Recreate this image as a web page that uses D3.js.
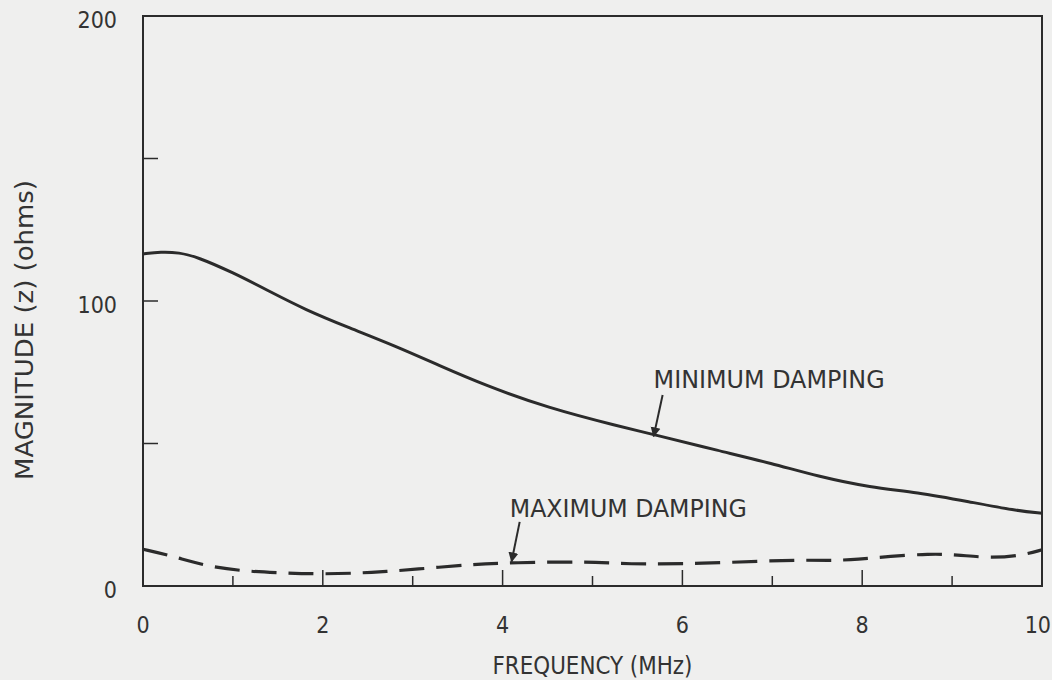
<!DOCTYPE html>
<html>
<head>
<meta charset="utf-8">
<script src="https://cdn.jsdelivr.net/npm/d3@7"></script>
<style>
  html, body { margin: 0; padding: 0; background: #efefee; }
  svg { display: block; }
  text { fill: #333; font-family: "DejaVu Sans Condensed", "DejaVu Sans", sans-serif; }
</style>
</head>
<body>
<svg id="chart" width="1052" height="680"></svg>
<script>
// Impedance magnitude vs. frequency, two damping cases
const minFreq = [0, 0.2, 0.4, 0.6, 1.0, 1.4, 1.8, 2.3, 2.8, 3.3, 3.8, 4.5, 5.3, 5.7, 6.4, 7.0, 7.5, 8.1, 8.6, 9.2, 9.7, 10];
const minMag  = [116.5, 117.3, 117, 115.5, 110, 103.5, 97, 90.5, 84.3, 77.3, 70.5, 62.5, 56, 53, 47.5, 43, 38.5, 34.5, 33, 29.5, 26.5, 25.5];

const maxFreq = [0, 0.33, 0.7, 1.1, 1.45, 2.0, 2.55, 3.05, 3.65, 4.1, 5.0, 5.35, 6.2, 7.2, 7.65, 7.95, 8.3, 8.75, 9.05, 9.4, 9.75, 10];
const maxMag  = [12.9, 10.5, 7.0, 5.3, 4.7, 4.1, 4.7, 5.9, 7.6, 8.2, 8.6, 7.6, 7.8, 9.2, 8.9, 9.3, 10.4, 11.3, 11.0, 9.8, 10.5, 12.7];

const xTicks = [0, 1, 2, 3, 4, 5, 6, 7, 8, 9, 10];
const xTickLabels = [0, 2, 4, 6, 8, 10];
const yTicks = [50, 100, 150];
const yTickLabels = [0, 100, 200];

const svg = d3.select("#chart");
const ink = "#2b2b2b";

const x = d3.scaleLinear().domain([0, 10]).range([143, 1042]);
const y = d3.scaleLinear().domain([0, 200]).range([586, 16]);

// frame
svg.append("rect")
  .attr("x", x(0)).attr("y", y(200))
  .attr("width", x(10) - x(0)).attr("height", y(0) - y(200))
  .attr("fill", "none").attr("stroke", ink).attr("stroke-width", 2);

// inward ticks on the frequency axis (longer on even values)
svg.append("g").selectAll("line").data(xTicks.slice(1, -1)).join("line")
  .attr("x1", d => x(d)).attr("x2", d => x(d))
  .attr("y1", y(0)).attr("y2", d => y(0) - (d % 2 === 0 ? 16 : 10))
  .attr("stroke", ink).attr("stroke-width", 1.5);

// inward ticks on the magnitude axis
svg.append("g").selectAll("line").data(yTicks).join("line")
  .attr("x1", x(0)).attr("x2", x(0) + 15)
  .attr("y1", d => y(d)).attr("y2", d => y(d))
  .attr("stroke", ink).attr("stroke-width", 1.5);

// tick labels; the last one is kept inside the page edge
svg.append("g").selectAll("text").data(xTickLabels).join("text")
  .attr("x", d => d === 10 ? 1051 : x(d))
  .attr("y", y(0) + 47)
  .attr("text-anchor", d => d === 10 ? "end" : "middle")
  .attr("font-size", 23)
  .text(d => d);

svg.append("g").selectAll("text").data(yTickLabels).join("text")
  .attr("x", x(0) - 26).attr("y", d => y(d) + 12)
  .attr("text-anchor", "end").attr("font-size", 23)
  .text(d => d);

// axis titles
svg.append("text")
  .attr("x", (x(0) + x(10)) / 2).attr("y", 674)
  .attr("text-anchor", "middle").attr("font-size", 24)
  .attr("textLength", 200).attr("lengthAdjust", "spacingAndGlyphs")
  .text("FREQUENCY (MHz)");

svg.append("text")
  .attr("transform", "translate(33, 330) rotate(-90)")
  .attr("text-anchor", "middle").attr("font-size", 25)
  .attr("textLength", 300).attr("lengthAdjust", "spacingAndGlyphs")
  .text("MAGNITUDE (z) (ohms)");

// curves
const line = d3.line()
  .x(d => x(d[0])).y(d => y(d[1]))
  .curve(d3.curveBasis);

svg.append("path")
  .datum(d3.zip(minFreq, minMag))
  .attr("d", line)
  .attr("fill", "none").attr("stroke", ink).attr("stroke-width", 3);

svg.append("path")
  .datum(d3.zip(maxFreq, maxMag))
  .attr("d", line)
  .attr("fill", "none").attr("stroke", ink).attr("stroke-width", 3.2)
  .attr("stroke-dasharray", "25 12");

// callouts with arrows
svg.append("defs").append("marker")
  .attr("id", "head").attr("viewBox", "0 0 10 10")
  .attr("refX", 9).attr("refY", 5)
  .attr("markerWidth", 5).attr("markerHeight", 6)
  .attr("markerUnits", "strokeWidth")
  .attr("orient", "auto")
  .append("path").attr("d", "M0,0 L10,5 L0,10 Z").attr("fill", ink);

const callouts = [
  { label: "MINIMUM DAMPING", tx: 5.68, ty: 69.5, width: 231, from: [5.78, 67], to: [5.68, 52.5] },
  { label: "MAXIMUM DAMPING", tx: 4.08, ty: 24.2, width: 237, from: [4.19, 22.5], to: [4.1, 8.6] }
];

callouts.forEach(c => {
  svg.append("text")
    .attr("x", x(c.tx)).attr("y", y(c.ty))
    .attr("font-size", 24)
    .attr("textLength", c.width).attr("lengthAdjust", "spacingAndGlyphs")
    .text(c.label);
  svg.append("line")
    .attr("x1", x(c.from[0])).attr("y1", y(c.from[1]))
    .attr("x2", x(c.to[0])).attr("y2", y(c.to[1]))
    .attr("stroke", ink).attr("stroke-width", 2)
    .attr("marker-end", "url(#head)");
});
</script>
</body>
</html>
